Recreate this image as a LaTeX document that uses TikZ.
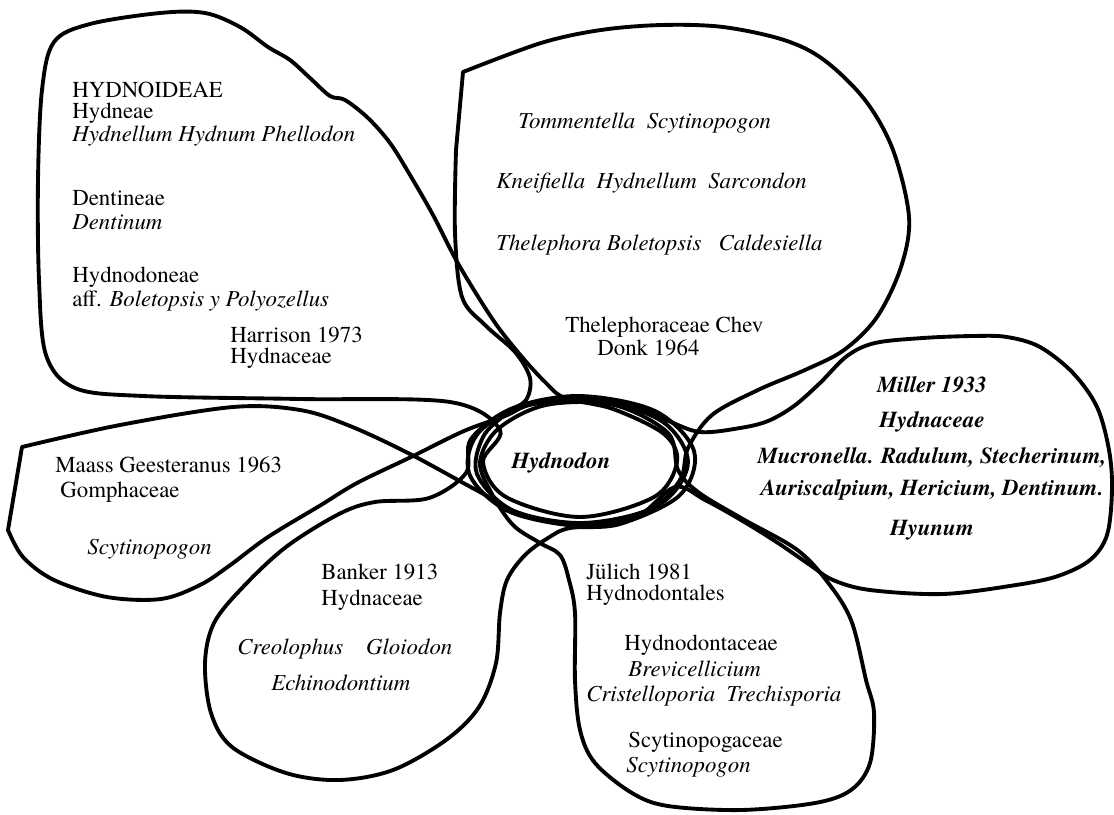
\documentclass[tikz,border=0pt]{standalone}
\usepackage{fontspec}
\setmainfont{texgyretermes-regular.otf}[
  BoldFont=texgyretermes-bold.otf,
  ItalicFont=texgyretermes-italic.otf,
  BoldItalicFont=texgyretermes-bolditalic.otf]
\usepackage{tikz}
\tikzset{petal/.style={line width=2.2pt, line join=round, tension=0.55},
  lbl/.style={inner sep=0pt, anchor=west, font=\fontsize{13}{15}\selectfont},
  lblc/.style={lbl, anchor=center},
  lblb/.style={lblc, font=\fontsize{13}{15}\selectfont\bfseries\itshape}}

\begin{document}
\begin{tikzpicture}[x=0.02cm,y=-0.02cm]
\useasboundingbox (0,0) rectangle (1114,814);

\draw[petal] plot[smooth cycle] coordinates {
(565,398) (613,409) (664,434) (677,462) (654,497) (580,517) (506,497)
(483,462) (500,430) (450,402) (300,399) (143,396) (75,388) (46,355)
(39,280) (38,180) (42,90) (54,42) (90,24) (160,13) (205,13) (240,27)
(268,47) (290,60) (310,78) (330,96) (345,100) (368,118) (390,143)
(410,175) (433,215) (455,258) (477,295) (498,327) (522,357) (545,382)};

\draw[petal] plot[smooth] coordinates {
(463,72) (541,43) (601,30) (662,25) (723,27) (784,40) (824,60) (865,100)
(893,150) (909,217) (901,267) (877,317) (844,350) (805,370) (758,390)
(712,415) (688,448) (680,480) (648,510) (580,523) (512,510) (477,474)
(483,437) (507,413) (526,400) (530,378) (515,352) (485,325) (462,297)
(455,233) (456,150)} -- cycle;

\draw[petal] plot[smooth cycle] coordinates {
(700,432) (740,428) (768,421) (794,406) (820,383) (847,356) (875,343)
(923,338) (973,336) (1007,337) (1040,347) (1073,373) (1097,407)
(1109,450) (1112,490) (1107,535) (1090,560) (1058,576) (1016,585)
(943,594) (870,590) (833,580) (810,565) (778,543) (741,520) (705,500)
(675,487) (636,517) (580,526) (508,511) (469,473) (481,430) (542,401)
(618,401) (666,420)};

\draw[petal] plot[smooth cycle] coordinates {
(540,543) (560,555) (569,580) (575,613) (575,680) (580,730) (595,763)
(632,793) (668,806) (741,810) (815,803) (851,790) (870,763) (874,713)
(866,680) (851,620) (826,580) (796,549) (741,518) (698,492) (678,470)
(668,433) (614,405) (546,405) (498,429) (480,462) (492,494) (513,525)};

\draw[petal] plot[smooth] coordinates {
(22,447) (120,425) (233,407) (300,410) (350,426) (410,454) (478,491)
(526,516) (599,524) (663,502) (688,462) (663,422) (599,400) (534,404)
(505,416) (464,431) (411,457) (357,483) (321,505) (268,537) (229,566)
(200,585) (161,599) (107,597) (54,580) (23,557) (8,530)} -- cycle;

\draw[petal] plot[smooth cycle] coordinates {
(211,713) (205,663) (214,623) (243,587) (286,547) (339,514) (375,502)
(429,498) (466,473) (471,439) (513,408) (580,396) (655,411) (694,451)
(680,495) (620,524) (570,528) (548,538) (525,555) (507,580) (500,613)
(496,663) (479,707) (446,740) (393,770) (339,780) (286,773) (232,747)};

\node[lblb] (hyd) at (561,463) {Hydnodon};

\node[lbl] (har1) at (72,90) {HYDNOIDEAE};
\node[lbl] (har2) at (72,113) {Hydneae};
\node[lbl] (har3) at (72,136) {\textit{Hydnellum Hydnum Phellodon}};
\node[lbl] (har4) at (72,198) {Dentineae};
\node[lbl] (har5) at (72,222) {\textit{Dentinum}};
\node[lbl] (har6) at (72,277) {Hydnodoneae};
\node[lbl] (har7) at (72,301) {aff. \textit{Boletopsis y Polyozellus}};
\node[lbl] (har8) at (230,335) {Harrison 1973};
\node[lbl] (har9) at (230,358) {Hydnaceae};

\node[lbl] (thel1) at (518,123) {\textit{Tommentella\ \ Scytinopogon}};
\node[lbl] (thel2) at (496,183) {\textit{Kneifiella\ \ Hydnellum\ \ Sarcondon}};
\node[lbl] (thel3) at (496,245) {\textit{Thelephora\ Boletopsis\ \ \ Caldesiella}};
\node[lbl] (thel4) at (565,327) {Thelephoraceae Chev};
\node[lbl] (thel5) at (597,348) {Donk 1964};

\node[lblb] (mil1) at (932,385) {Miller 1933};
\node[lblb] (mil2) at (932,422) {Hydnaceae};
\node[lblb] (mil3) at (932,458) {Mucronella. Radulum, Stecherinum,};
\node[lblb] (mil4) at (932,490) {Auriscalpium, Hericium, Dentinum.};
\node[lblb] (mil5) at (932,530) {Hyunum};

\node[lbl] (jul1) at (586,572) {Jülich 1981};
\node[lbl] (jul2) at (586,595) {Hydnodontales};
\node[lbl] (jul3) at (624,645) {Hydnodontaceae};
\node[lbl] (jul4) at (628,669) {\textit{Brevicellicium}};
\node[lbl] (jul5) at (586,696) {\textit{Cristelloporia\ \ Trechisporia}};
\node[lbl] (jul6) at (628,742) {Scytinopogaceae};
\node[lbl] (jul7) at (626,767) {\textit{Scytinopogon}};

\node[lbl] (maa1) at (55,465) {Maass Geesteranus 1963};
\node[lbl] (maa2) at (60,492) {Gomphaceae};
\node[lbl] (maa3) at (87,549) {\textit{Scytinopogon}};

\node[lbl] (ban1) at (321,572) {Banker 1913};
\node[lbl] (ban2) at (321,600) {Hydnaceae};
\node[lbl] (ban3) at (237,649) {\textit{Creolophus\ \ \ \ Gloiodon}};
\node[lbl] (ban4) at (271,683) {\textit{Echinodontium}};
\end{tikzpicture}
\end{document}
